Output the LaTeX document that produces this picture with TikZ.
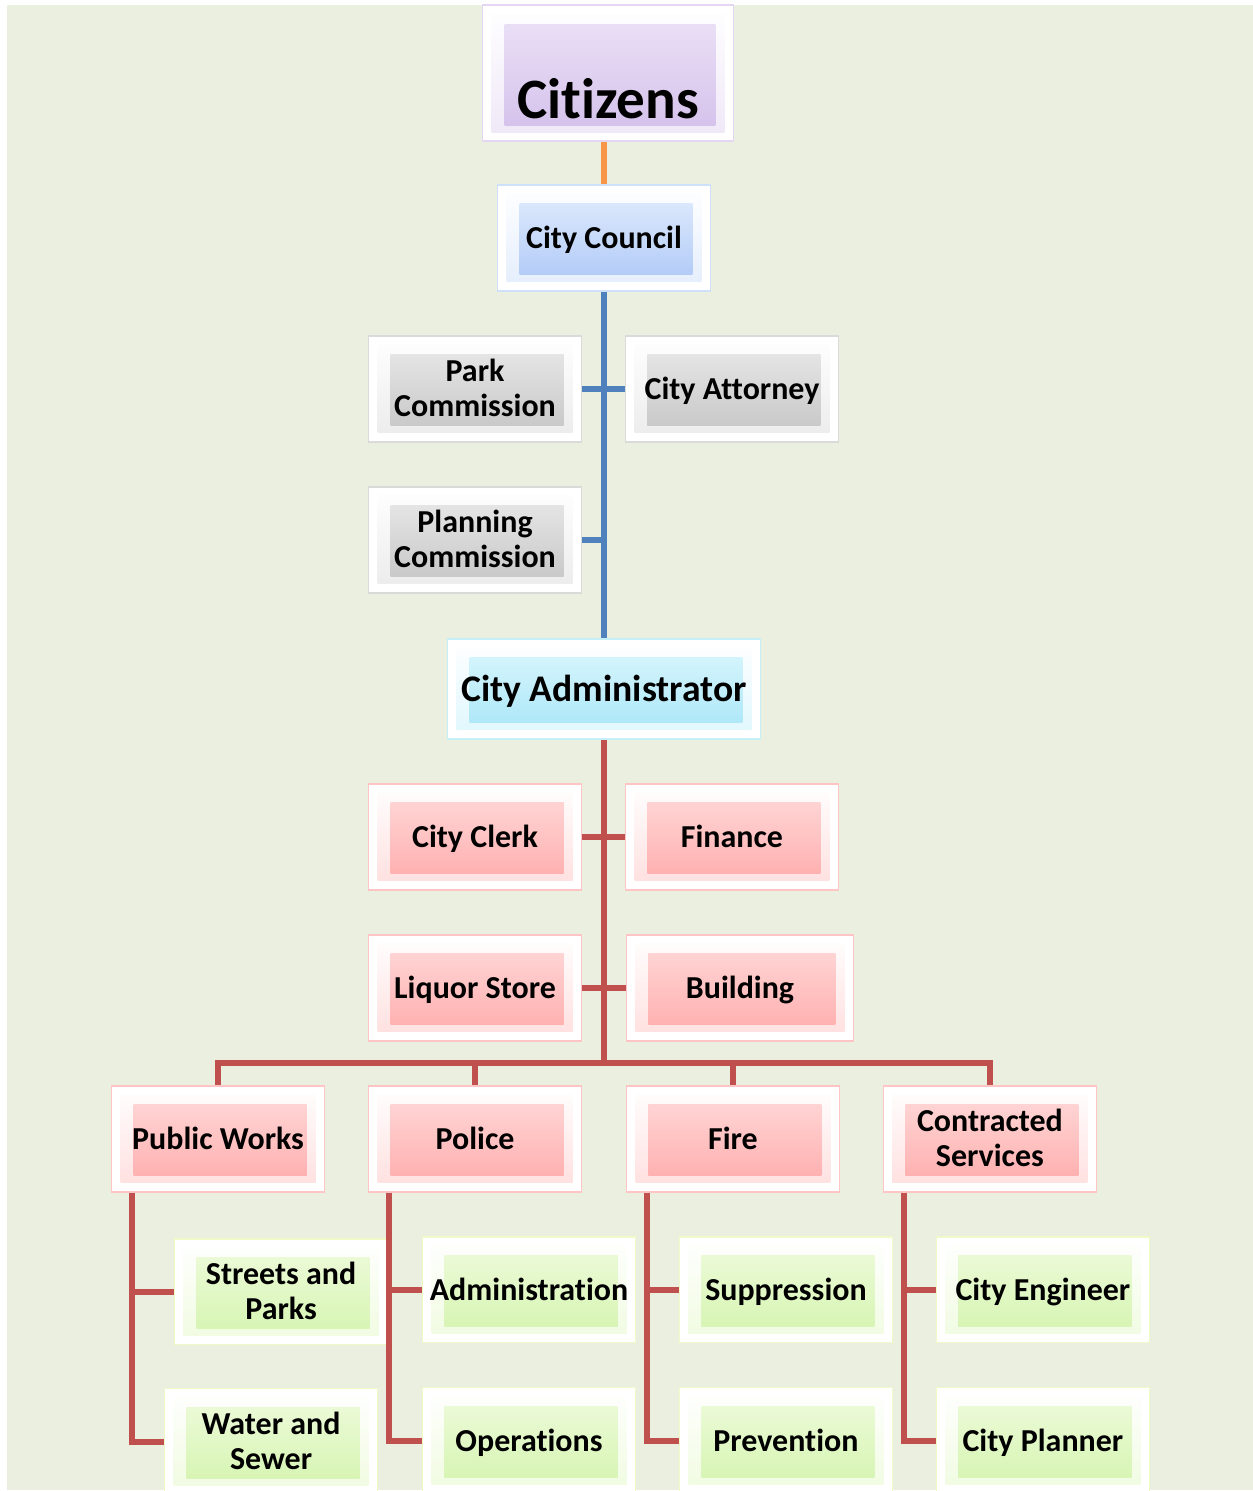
\documentclass[tikz,border=0pt]{standalone}
\usepackage{fontspec}
\setmainfont{Carlito}[Ligatures={NoCommon,NoRequired,NoContextual}]
\usepackage{tikz}

\definecolor{bgcolor}{HTML}{EBEFDF}
\definecolor{citizentop}{HTML}{E9DFF5}
\definecolor{citizenbot}{HTML}{D6C3EC}
\definecolor{citizenedge}{HTML}{E6D6F6}
\definecolor{counciltop}{HTML}{DAE7FC}
\definecolor{councilbot}{HTML}{B3CCF7}
\definecolor{counciledge}{HTML}{CFE0FA}
\definecolor{greytop}{HTML}{E4E4E4}
\definecolor{greybot}{HTML}{C9C9C9}
\definecolor{greyedge}{HTML}{DADADA}
\definecolor{admintop}{HTML}{D3F4FC}
\definecolor{adminbot}{HTML}{AFE8F8}
\definecolor{adminedge}{HTML}{C5F0FA}
\definecolor{redtop}{HTML}{FFD3D3}
\definecolor{redbot}{HTML}{FFB1B1}
\definecolor{rededge}{HTML}{FFC4C4}
\definecolor{greentop}{HTML}{EBFAD6}
\definecolor{greenbot}{HTML}{D7F5B4}
\definecolor{greenedge}{HTML}{F0FAC8}
\definecolor{lineblue}{HTML}{4F81BD}
\definecolor{linered}{HTML}{C0504D}
\definecolor{lineorange}{HTML}{F79646}

\tikzset{
  orgbox/.style n args={3}{rectangle, minimum width=4.26cm, minimum height=2.12cm, inner sep=0pt,
    align=center, text height=11.7pt, text depth=0pt, font=\bfseries\fontsize{18.2}{20}\selectfont,
    fill=white, draw=#1, line width=0.8pt,
    path picture={
      \shade[top color=white, bottom color=#2!75!white] ([shift={(0.18cm,-0.18cm)}]path picture bounding box.north west)
        rectangle ([shift={(-0.18cm,0.18cm)}]path picture bounding box.south east);
      \shade[top color=#2, bottom color=#3] ([shift={(0.44cm,-0.38cm)}]path picture bounding box.north west)
        rectangle ([shift={(-0.36cm,0.32cm)}]path picture bounding box.south east);
    }},
  purplebox/.style={orgbox={citizenedge}{citizentop}{citizenbot}},
  bluebox/.style={orgbox={counciledge}{counciltop}{councilbot}},
  greybox/.style={orgbox={greyedge}{greytop}{greybot}},
  cyanbox/.style={orgbox={adminedge}{admintop}{adminbot}},
  redbox/.style={orgbox={rededge}{redtop}{redbot}},
  greenbox/.style={orgbox={greenedge}{greentop}{greenbot}},
  twoline/.style={text height=31.7pt, text depth=0pt},
  link/.style={line width=3.3pt}
}

\begin{document}
\begin{tikzpicture}[x=0.02cm,y=0.02cm,node distance=3.02cm]
  \useasboundingbox (0,0) rectangle (1253,1491);
  \fill[bgcolor] (7,1) rectangle (1253,1486);

  \node[bluebox]   (council)    at (604,1253) {City Council};
  \node[purplebox, minimum width=5.02cm, minimum height=2.72cm, text height=51.8pt,
        font=\bfseries\fontsize{32.5}{34}\selectfont]
                   (citizens)   [above of=council, node distance=3.3cm, xshift=0.08cm] {Citizens};
  \node[greybox, twoline]  (park)       [below of=council, xshift=-2.58cm] {Park\\Commission};
  \node[greybox]           (attorney)   [below of=council, xshift=2.56cm]  {City Attorney};
  \node[greybox, twoline]  (planning)   [below of=park]                    {Planning\\Commission};
  \node[cyanbox, minimum width=6.26cm, minimum height=2cm, text height=13.8pt,
        font=\bfseries\fontsize{21.4}{22}\selectfont]
                   (admin)      [below of=council, node distance=9.02cm] {City Administrator};

  \node[redbox]    (clerk)      [below of=admin, node distance=2.96cm, xshift=-2.58cm] {City Clerk};
  \node[redbox]    (finance)    [below of=admin, node distance=2.96cm, xshift=2.56cm]  {Finance};
  \node[redbox]    (liquor)     [below of=clerk]                   {Liquor Store};
  \node[redbox, minimum width=4.54cm]
                   (building)   [below of=finance, xshift=0.16cm] {Building};
  \node[redbox]    (police)     [below of=liquor]                  {Police};
  \node[redbox]    (pubworks)   [left of=police, node distance=5.14cm]  {Public Works};
  \node[redbox]    (fire)       [right of=police, node distance=5.16cm] {Fire};
  \node[redbox, twoline]
                   (contracted) [right of=fire, node distance=5.14cm]   {Contracted\\Services};

  \node[greenbox, twoline] (streets)    [below of=pubworks, node distance=3.06cm, xshift=1.26cm] {Streets and\\Parks};
  \node[greenbox, twoline] (water)      [below of=streets, node distance=3cm, xshift=-0.2cm]     {Water and\\Sewer};
  \node[greenbox]  (adminis)    [below of=police, xshift=1.08cm]     {Administration};
  \node[greenbox]  (operations) [below of=adminis]                   {Operations};
  \node[greenbox]  (suppress)   [below of=fire, xshift=1.06cm]       {Suppression};
  \node[greenbox]  (prevent)    [below of=suppress]                  {Prevention};
  \node[greenbox]  (engineer)   [below of=contracted, xshift=1.06cm] {City Engineer};
  \node[greenbox]  (planner)    [below of=engineer]                  {City Planner};

  % upper links
  \draw[link, lineorange] (citizens.south -| council.north) -- (council.north);
  \draw[link, lineblue] (council.south) -- (admin.north);
  \draw[link, lineblue] (park.east) -- (attorney.west);
  \draw[link, lineblue] (planning.east) -- (planning.east -| council.south);

  % staff under the administrator
  \path (pubworks.north) ++(0,22) coordinate (bus);
  \draw[link, linered] (admin.south) -- (admin.south |- bus);
  \draw[link, linered] (clerk.east) -- (finance.west);
  \draw[link, linered] (liquor.east) -- (building.west);
  \draw[link, linered] (pubworks.north) |- (bus) -| (contracted.north);
  \draw[link, linered] (police.north) -- (police.north |- bus);
  \draw[link, linered] (fire.north) -- (fire.north |- bus);

  % departments
  \draw[link, linered] ([xshift=0.42cm]pubworks.south west) |- (streets.west);
  \draw[link, linered] ([xshift=0.42cm]pubworks.south west) |- (water.west);
  \draw[link, linered] ([xshift=0.42cm]police.south west) |- (adminis.west);
  \draw[link, linered] ([xshift=0.42cm]police.south west) |- (operations.west);
  \draw[link, linered] ([xshift=0.42cm]fire.south west) |- (suppress.west);
  \draw[link, linered] ([xshift=0.42cm]fire.south west) |- (prevent.west);
  \draw[link, linered] ([xshift=0.42cm]contracted.south west) |- (engineer.west);
  \draw[link, linered] ([xshift=0.42cm]contracted.south west) |- (planner.west);
\end{tikzpicture}
\end{document}
